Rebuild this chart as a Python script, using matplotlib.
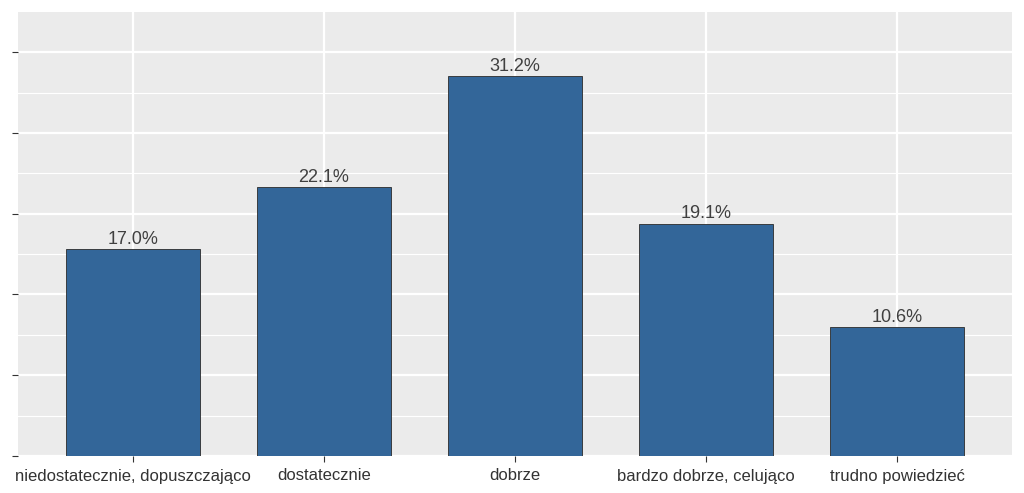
import numpy as np
import matplotlib
matplotlib.use("Agg")
import matplotlib.pyplot as plt

categories = ["niedostatecznie, dopuszczająco", "dostatecznie", "dobrze",
              "bardzo dobrze, celująco", "trudno powiedzieć"]
values = [17.0, 22.1, 31.2, 19.1, 10.6]
labels = ["17.0%", "22.1%", "31.2%", "19.1%", "10.6%"]

plt.rcParams['font.family'] = ['Liberation Sans', 'DejaVu Sans']

fig = plt.figure(figsize=(10.24, 4.93), dpi=100)
ax = fig.add_axes([18/1024, 37/493, 994/1024, 444/493])
ax.set_facecolor("#EBEBEB")

x = np.arange(1, len(categories) + 1)
ax.bar(x, values, width=0.7, color="#336699", edgecolor="#2b2b2b", linewidth=0.6, zorder=3)
for xi, v, lab in zip(x, values, labels):
    ax.text(xi, v + 0.1, lab, ha="center", va="bottom", fontsize=13, color="#404040", zorder=4)

step = 6.64
ax.set_xlim(0.4, 5.6)
ax.set_ylim(0, 36.5)
ax.set_yticks(np.arange(0, 36, step))
ax.set_yticks(np.arange(step / 2, 36, step), minor=True)
ax.set_yticklabels([])
ax.set_xticks(x)
ax.set_xticklabels(categories, fontsize=12, color="#333333")

ax.grid(True, which="major", color="white", linewidth=1.6, zorder=0)
ax.grid(True, which="minor", axis="y", color="white", linewidth=0.8, zorder=0)
ax.tick_params(axis="both", which="major", length=4, color="#333333", width=0.8)
ax.tick_params(axis="y", which="minor", length=0)
ax.tick_params(axis="x", pad=5)
for s in ax.spines.values():
    s.set_visible(False)
ax.set_axisbelow(True)

fig.savefig("out.png", dpi=100)
